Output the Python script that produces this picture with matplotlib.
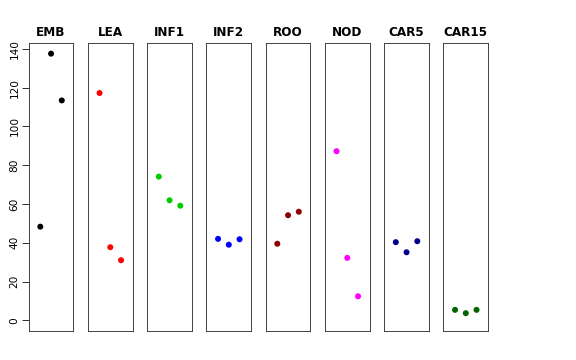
import matplotlib
matplotlib.use("Agg")
from matplotlib import pyplot as plt

# tissues and their three replicate values
tissues = ["EMB", "LEA", "INF1", "INF2", "ROO", "NOD", "CAR5", "CAR15"]
values = [
    [48.3, 137.5, 113.4],
    [117.2, 37.7, 31.0],
    [74.1, 61.9, 59.1],
    [42.0, 39.0, 41.8],
    [39.5, 54.2, 56.0],
    [87.2, 32.2, 12.4],
    [40.3, 35.1, 40.8],
    [5.4, 3.7, 5.4],
]
colors = ["black", "red", "#00CD00", "blue", "#8B0000", "magenta", "#00008B", "#006400"]
replicates = [1, 2, 3]
yticks = [0, 20, 40, 60, 80, 100, 120, 140]

W, H = 576, 360
fig = plt.figure(figsize=(W / 72, H / 72), dpi=72)

for i, (name, vals, col) in enumerate(zip(tissues, values, colors)):
    left = 28.7 + i * 59.25
    ax = fig.add_axes([left / W, 29 / H, 44.7 / W, 288 / H])
    ax.scatter(replicates, vals, s=36, color=col, edgecolors="none")
    ax.set_xlim(-0.08, 4.08)
    ax.set_ylim(-5.5, 143)
    ax.set_xticks([])
    ax.set_title(name, fontsize=12, fontweight="bold", pad=7)
    for sp in ax.spines.values():
        sp.set_linewidth(0.9)
        sp.set_color("#333333")
    if i == 0:
        ax.set_yticks(yticks)
        ax.set_yticklabels([str(t) for t in yticks], rotation=90, va="center", fontsize=10.5)
        ax.tick_params(axis="y", length=7, width=0.8, pad=2)
    else:
        ax.set_yticks([])

fig.savefig("out.png", dpi=72)
